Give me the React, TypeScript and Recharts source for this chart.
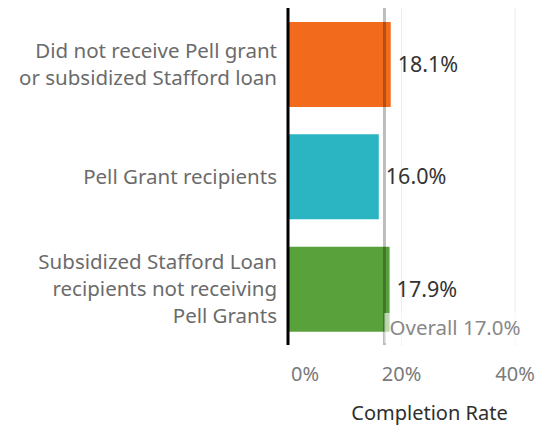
import { Bar, BarChart, CartesianGrid, Cell, LabelList, ReferenceLine, XAxis, YAxis } from 'recharts';

const categories = [
  'Did not receive Pell grant\nor subsidized Stafford loan',
  'Pell Grant recipients',
  'Subsidized Stafford Loan\nrecipients not receiving\nPell Grants',
];
const rates = [18.1, 16.0, 17.9];
const barColors = ['#f26b1d', '#2bb5c3', '#59a13a'];
const xTicks = [0, 20, 40];
const overall = 17.0;

const data = categories.map((name, i) => ({ name, rate: rates[i] }));

const FONT = '"Noto Sans", sans-serif';

function CategoryTick({ x, y, payload }: any) {
  const lines = String(payload.value).split('\n');
  const lh = 27;
  const start = -((lines.length - 1) * lh) / 2;
  return (
    <text x={x - 3} y={y} textAnchor="end" fill="#6b6b6b" fontSize={20.5} fontFamily={FONT}>
      {lines.map((l, i) => (
        <tspan key={i} x={x - 3} dy={i === 0 ? start + 7 : lh}>{l}</tspan>
      ))}
    </text>
  );
}

function PctTick({ x, y, payload }: any) {
  const first = payload.value === 0;
  return (
    <text
      x={first ? x + 3 : x}
      y={y + 28}
      textAnchor={first ? 'start' : 'middle'}
      fill="#7a7a7a"
      fontSize={20}
      fontFamily={FONT}
    >
      {payload.value}%
    </text>
  );
}

function OverallLabel({ viewBox }: any) {
  const x = viewBox.x;
  const bottom = viewBox.y + viewBox.height;
  return (
    <g>
      <rect x={x} y={bottom - 32} width={142} height={30} fill="#fff" fillOpacity={0.6} />
      <text x={x + 5} y={bottom - 10} fill="#888" fontSize={20.5} fontFamily={FONT}>
        Overall {overall.toFixed(1)}%
      </text>
    </g>
  );
}

export default function App() {
  return (
    <div style={{ position: 'absolute', left: 0, top: 0, background: '#fff' }}>
      <BarChart
        width={550}
        height={426}
        data={data}
        layout="vertical"
        margin={{ top: 8, right: 35, bottom: 0, left: 0 }}
        barSize={85}
      >
        <CartesianGrid horizontal={false} stroke="#ececec" />
        <XAxis
          type="number"
          domain={[0, 40]}
          ticks={xTicks}
          tick={<PctTick />}
          tickLine={false}
          axisLine={false}
          height={81}
          label={{
            value: 'Completion Rate',
            position: 'insideBottom',
            dx: 28,
            offset: 6,
            fill: '#2e2e2e',
            fontSize: 20,
            fontFamily: FONT,
          }}
        />
        <YAxis
          type="category"
          dataKey="name"
          width={288}
          tick={<CategoryTick />}
          tickLine={false}
          axisLine={{ stroke: '#000', strokeWidth: 3 }}
        />
        <Bar dataKey="rate" isAnimationActive={false}>
          {data.map((d, i) => (
            <Cell key={d.name} fill={barColors[i]} />
          ))}
          <LabelList
            dataKey="rate"
            position="right"
            offset={7}
            formatter={(v: number) => `${v.toFixed(1)}%`}
            fill="#333"
            fontSize={21.5}
            fontFamily={FONT}
          />
        </Bar>
        <ReferenceLine
          x={overall}
          stroke="#000"
          strokeOpacity={0.26}
          strokeWidth={3}
          label={<OverallLabel />}
        />
      </BarChart>
    </div>
  );
}
